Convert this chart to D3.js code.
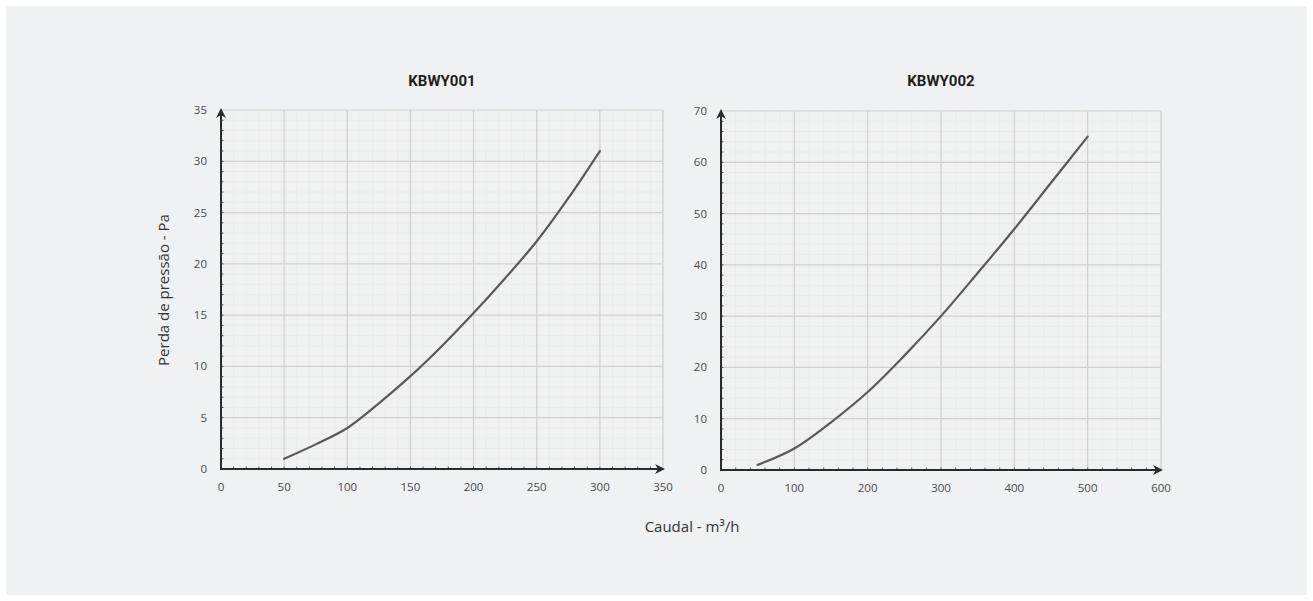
<!DOCTYPE html>
<html>
<head>
<meta charset="utf-8">
<script src="https://cdn.jsdelivr.net/npm/d3@7"></script>
<style>
  html, body { margin: 0; padding: 0; background: #ffffff; }
  svg { display: block; }
</style>
</head>
<body>
<svg id="chart" width="1313" height="601"></svg>
<script>
// Pressure-loss curves for two models
const titles = ["KBWY001", "KBWY002"];

const flow1 = [50, 75, 100, 125, 150, 175, 200, 225, 250, 275, 300];
const loss1 = [1.0, 2.4, 4.0, 6.4, 9.05, 12.0, 15.2, 18.6, 22.2, 26.4, 31.0];

const flow2 = [50, 100, 150, 200, 250, 300, 350, 400, 450, 500];
const loss2 = [1.0, 4.2, 9.3, 15.2, 22.3, 30.0, 38.4, 47.0, 56.0, 65.0];

const xTicks1 = [0, 50, 100, 150, 200, 250, 300, 350];
const yTicks1 = [0, 5, 10, 15, 20, 25, 30, 35];
const xTicks2 = [0, 100, 200, 300, 400, 500, 600];
const yTicks2 = [0, 10, 20, 30, 40, 50, 60, 70];

const yLabel = "Perda de pressão - Pa";
const xLabel = "Caudal - m³/h";

const svg = d3.select("#chart");

// light panel behind everything
svg.append("rect")
  .attr("x", 6).attr("y", 6).attr("width", 1301).attr("height", 589)
  .attr("fill", "#f0f1f3");

const panels = [
  { title: titles[0], flow: flow1, loss: loss1, xt: xTicks1, yt: yTicks1,
    xr: [221, 663], yr: [469, 110] },
  { title: titles[1], flow: flow2, loss: loss2, xt: xTicks2, yt: yTicks2,
    xr: [721, 1161], yr: [470, 111] }
];

// split each major interval into five minor steps
function minorTicks(major) {
  const out = [];
  for (let i = 0; i < major.length - 1; i++) {
    const a = major[i], b = major[i + 1];
    for (let k = 1; k < 5; k++) out.push(a + (b - a) * k / 5);
  }
  return out;
}

const tickFont = "'Open Sans', 'Noto Sans', sans-serif";

panels.forEach(p => {
  const x = d3.scaleLinear().domain([p.xt[0], p.xt[p.xt.length - 1]]).range(p.xr);
  const y = d3.scaleLinear().domain([p.yt[0], p.yt[p.yt.length - 1]]).range(p.yr);
  const g = svg.append("g");

  const xMin = minorTicks(p.xt), yMin = minorTicks(p.yt);

  // minor grid
  g.append("g").selectAll("line").data(xMin).join("line")
    .attr("x1", d => x(d)).attr("x2", d => x(d))
    .attr("y1", p.yr[0]).attr("y2", p.yr[1])
    .attr("stroke", "#edece4").attr("stroke-width", 1);
  g.append("g").selectAll("line").data(yMin).join("line")
    .attr("y1", d => y(d)).attr("y2", d => y(d))
    .attr("x1", p.xr[0]).attr("x2", p.xr[1])
    .attr("stroke", "#edece4").attr("stroke-width", 1);

  // major grid
  g.append("g").selectAll("line").data(p.xt.slice(1)).join("line")
    .attr("x1", d => x(d)).attr("x2", d => x(d))
    .attr("y1", p.yr[0]).attr("y2", p.yr[1])
    .attr("stroke", "#d3d0c8").attr("stroke-width", 1.2);
  g.append("g").selectAll("line").data(p.yt.slice(1)).join("line")
    .attr("y1", d => y(d)).attr("y2", d => y(d))
    .attr("x1", p.xr[0]).attr("x2", p.xr[1])
    .attr("stroke", "#d3d0c8").attr("stroke-width", 1.2);

  // small ticks along the axes
  g.append("g").selectAll("line").data(xMin.concat(p.xt.slice(1, -1))).join("line")
    .attr("x1", d => x(d)).attr("x2", d => x(d))
    .attr("y1", p.yr[0]).attr("y2", p.yr[0] - 2.5)
    .attr("stroke", "#555").attr("stroke-width", 1);
  g.append("g").selectAll("line").data(yMin.concat(p.yt.slice(1, -1))).join("line")
    .attr("y1", d => y(d)).attr("y2", d => y(d))
    .attr("x1", p.xr[0]).attr("x2", p.xr[0] + 2.5)
    .attr("stroke", "#555").attr("stroke-width", 1);

  // axes with arrowheads
  const ax = p.xr[0], ay = p.yr[0];
  g.append("line")
    .attr("x1", ax).attr("x2", p.xr[1] - 4)
    .attr("y1", ay).attr("y2", ay)
    .attr("stroke", "#2b2b2b").attr("stroke-width", 2);
  g.append("line")
    .attr("x1", ax).attr("x2", ax)
    .attr("y1", ay + 1).attr("y2", p.yr[1] + 4)
    .attr("stroke", "#2b2b2b").attr("stroke-width", 2);
  const tx = p.xr[1] + 2;
  g.append("path")
    .attr("d", `M${tx},${ay} L${tx - 10},${ay - 5} L${tx - 7},${ay} L${tx - 10},${ay + 5} Z`)
    .attr("fill", "#2b2b2b");
  const ty = p.yr[1] - 2;
  g.append("path")
    .attr("d", `M${ax},${ty} L${ax - 5},${ty + 10} L${ax},${ty + 7} L${ax + 5},${ty + 10} Z`)
    .attr("fill", "#2b2b2b");

  // tick labels
  g.append("g").selectAll("text").data(p.xt).join("text")
    .attr("x", d => x(d)).attr("y", ay + 22)
    .attr("text-anchor", "middle")
    .attr("font-family", tickFont).attr("font-size", 11.5)
    .attr("fill", "#4a4a4a")
    .text(d => d);
  g.append("g").selectAll("text").data(p.yt).join("text")
    .attr("x", ax - 14).attr("y", d => y(d) + 4)
    .attr("text-anchor", "end")
    .attr("font-family", tickFont).attr("font-size", 11.5)
    .attr("fill", "#4a4a4a")
    .text(d => d);

  // title
  g.append("text")
    .attr("x", (p.xr[0] + p.xr[1]) / 2).attr("y", 86)
    .attr("text-anchor", "middle")
    .attr("font-family", "Roboto, sans-serif").attr("font-weight", 700)
    .attr("font-size", 15).attr("fill", "#1e1e1e")
    .text(p.title);

  // curve
  const pts = p.flow.map((f, i) => [f, p.loss[i]]);
  g.append("path")
    .datum(pts)
    .attr("d", d3.line().x(d => x(d[0])).y(d => y(d[1])).curve(d3.curveCatmullRom.alpha(0.5)))
    .attr("fill", "none")
    .attr("stroke", "#5a5858").attr("stroke-width", 2.2)
    .attr("stroke-linecap", "round");
});

// shared axis titles
svg.append("text")
  .attr("transform", "translate(169,290) rotate(-90)")
  .attr("text-anchor", "middle")
  .attr("font-family", tickFont).attr("font-size", 15)
  .attr("fill", "#333")
  .text(yLabel);

svg.append("text")
  .attr("x", 692).attr("y", 532)
  .attr("text-anchor", "middle")
  .attr("font-family", tickFont).attr("font-size", 15)
  .attr("fill", "#333")
  .text(xLabel);
</script>
</body>
</html>
